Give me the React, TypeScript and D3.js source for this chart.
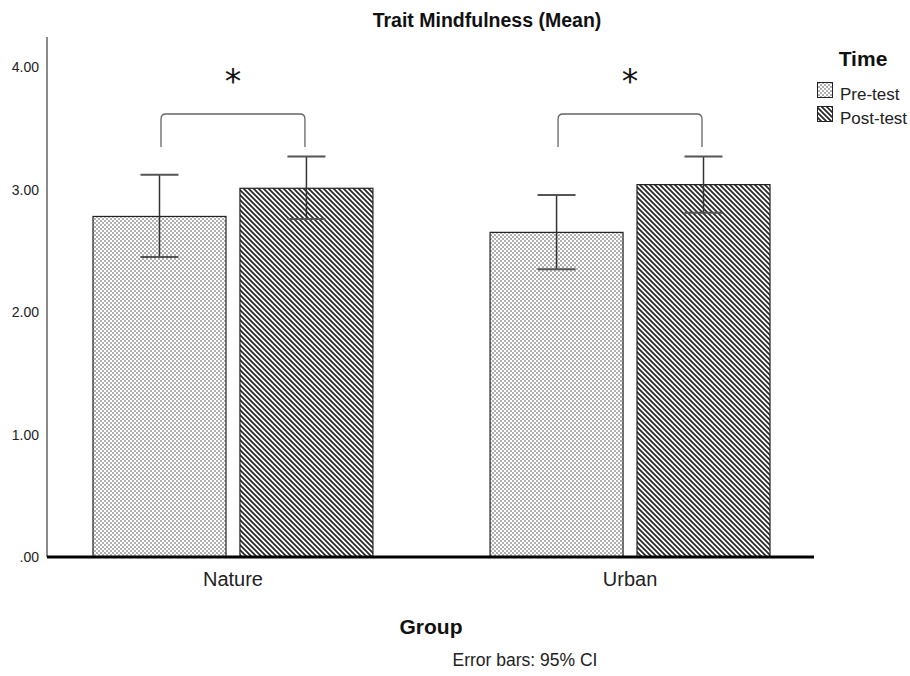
import React from "react";
import * as d3 from "d3";

const groups = ["Nature", "Urban"];
const times = ["Pre-test", "Post-test"];
const means = [
  [2.78, 3.01],
  [2.65, 3.04],
];
const ciLow = [
  [2.45, 2.76],
  [2.35, 2.81],
];
const ciHigh = [
  [3.12, 3.27],
  [2.955, 3.27],
];
const yTicks = [0, 1, 2, 3, 4];
const yTickLabels = [".00", "1.00", "2.00", "3.00", "4.00"];

const W = 910;
const H = 676;
const FONT = "'Liberation Sans', Arial, sans-serif";

export default function App() {
  const y = d3.scaleLinear().domain([0, 4]).range([557, 67]);
  const xGroup = d3.scaleBand().domain(groups).range([93, 770]).paddingInner(0.295).paddingOuter(0);
  const xTime = d3.scaleBand().domain(times).range([0, xGroup.bandwidth()]).paddingInner(0.095).paddingOuter(0);

  const yTop = 37;

  return (
    <svg width={W} height={H} style={{ position: "absolute", left: 0, top: 0, background: "#fff" }} fontFamily={FONT}>
      <defs>
        <pattern id="dots" width={4} height={4} patternUnits="userSpaceOnUse">
          <rect width={4} height={4} fill="#fff" />
          <rect x={0} y={0} width={2} height={2} fill="#b0b0b0" />
          <rect x={2} y={2} width={2} height={2} fill="#b0b0b0" />
        </pattern>
        <pattern id="diag" width={5} height={5} patternUnits="userSpaceOnUse">
          <rect width={5} height={5} fill="#fff" />
          <path d="M-1,-1 L6,6 M-1,4 L1,6 M4,-1 L6,1" stroke="#2a2a2a" strokeWidth={1.8} />
        </pattern>
      </defs>

      <text x={487} y={27} textAnchor="middle" fontSize={19.5} fontWeight="bold" fill="#111">
        Trait Mindfulness (Mean)
      </text>

      {/* y axis */}
      <line x1={47} x2={47} y1={yTop} y2={557} stroke="#8a8a8a" strokeWidth={2} />
      {yTicks.map((t, i) => (
        <text key={t} x={39} y={y(t) + 5} textAnchor="end" fontSize={14} fill="#222">
          {yTickLabels[i]}
        </text>
      ))}

      {/* bars */}
      {groups.map((g, gi) =>
        times.map((t, ti) => {
          const x0 = (xGroup(g) as number) + (xTime(t) as number);
          const bw = xTime.bandwidth();
          const cx = x0 + bw / 2;
          return (
            <g key={g + t}>
              <rect
                x={x0}
                y={y(means[gi][ti])}
                width={bw}
                height={y(0) - y(means[gi][ti])}
                fill={ti === 0 ? "url(#dots)" : "url(#diag)"}
                stroke="#222"
                strokeWidth={1.2}
              />
              <line x1={cx} x2={cx} y1={y(ciLow[gi][ti])} y2={y(ciHigh[gi][ti])} stroke="#333" strokeWidth={1.5} />
              <line x1={cx - 19} x2={cx + 19} y1={y(ciLow[gi][ti])} y2={y(ciLow[gi][ti])} stroke="#555" strokeWidth={2} />
              <line x1={cx - 19} x2={cx + 19} y1={y(ciHigh[gi][ti])} y2={y(ciHigh[gi][ti])} stroke="#555" strokeWidth={2} />
            </g>
          );
        })
      )}

      {/* baseline */}
      <line x1={47} x2={814} y1={557} y2={557} stroke="#000" strokeWidth={3} />

      {/* significance brackets */}
      {groups.map((g) => {
        const xa = (xGroup(g) as number) + (xTime(times[0]) as number) + xTime.bandwidth() / 2 + 1.5;
        const xb = (xGroup(g) as number) + (xTime(times[1]) as number) + xTime.bandwidth() / 2 - 1.5;
        const top = 114;
        const bot = 147;
        const r = 5;
        const d = `M${xa},${bot} L${xa},${top + r} Q${xa},${top} ${xa + r},${top} L${xb - r},${top} Q${xb},${top} ${xb},${top + r} L${xb},${bot}`;
        return (
          <g key={"br" + g}>
            <path d={d} fill="none" stroke="#666" strokeWidth={1.3} />
            <text x={(xa + xb) / 2} y={93} textAnchor="middle" fontSize={33} fill="#111" fontFamily="'DejaVu Sans', sans-serif">
              *
            </text>
          </g>
        );
      })}

      {/* category labels */}
      {groups.map((g) => (
        <text key={"lab" + g} x={(xGroup(g) as number) + xGroup.bandwidth() / 2} y={586} textAnchor="middle" fontSize={20} fill="#222">
          {g}
        </text>
      ))}

      <text x={431} y={634} textAnchor="middle" fontSize={21} fontWeight="bold" fill="#111">
        Group
      </text>
      <text x={525} y={666} textAnchor="middle" fontSize={17.5} fill="#222">
        Error bars: 95% CI
      </text>

      {/* legend */}
      <text x={863} y={66} textAnchor="middle" fontSize={21} fontWeight="bold" fill="#111">
        Time
      </text>
      {times.map((t, i) => (
        <g key={"lg" + t}>
          <rect x={817.5} y={82.5 + i * 24} width={15} height={15} fill={i === 0 ? "url(#dots)" : "url(#diag)"} stroke="#222" strokeWidth={1} />
          <text x={840} y={100 + i * 24} fontSize={17} fill="#222">
            {t}
          </text>
        </g>
      ))}
    </svg>
  );
}
